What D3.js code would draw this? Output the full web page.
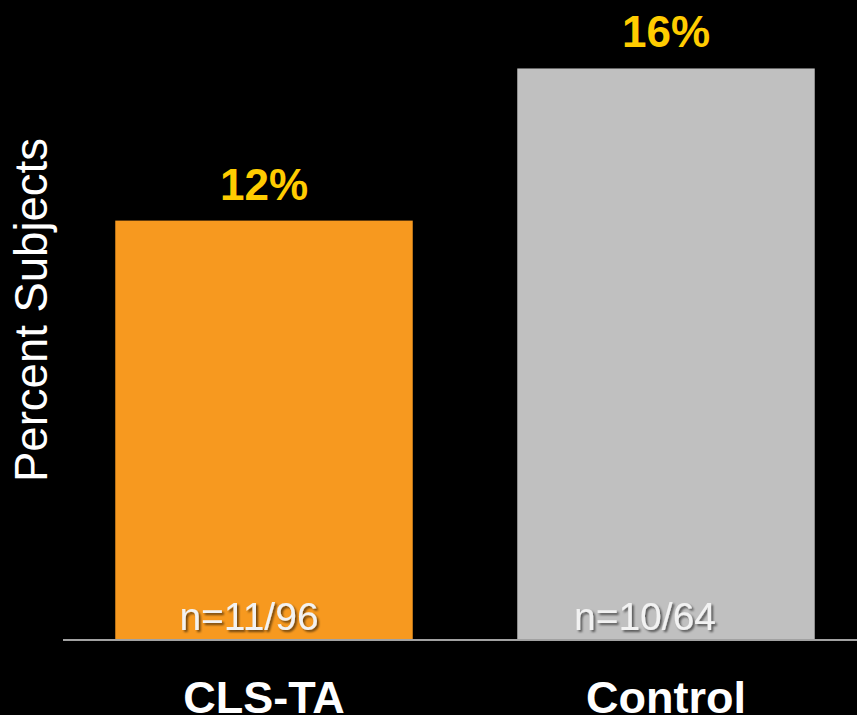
<!DOCTYPE html>
<html>
<head>
<meta charset="utf-8">
<script src="https://cdn.jsdelivr.net/npm/d3@7"></script>
<style>
  html, body { margin: 0; padding: 0; background: #000; }
  svg { display: block; }
</style>
</head>
<body>
<script>
// Chart data
const categories = ["CLS-TA", "Control"];
const events = [11, 10];        // subjects with event
const totals = [96, 64];        // subjects per arm
const percentLabels = ["12%", "16%"];
const barColors = ["#F7991F", "#C0C0C0"];

const values = events.map((e, i) => (e / totals[i]) * 100);

const width = 857;
const height = 715;
const baseY = 639;

const svg = d3.select("body")
  .append("svg")
  .attr("width", width)
  .attr("height", height)
  .attr("viewBox", [0, 0, width, height])
  .style("font-family", "'Liberation Sans', Arial, sans-serif");

svg.append("rect")
  .attr("width", width)
  .attr("height", height)
  .attr("fill", "#000");

// drop shadow for the n= labels
const defs = svg.append("defs");
defs.append("filter")
  .attr("id", "shadow")
  .attr("x", "-10%").attr("y", "-20%")
  .attr("width", "130%").attr("height", "150%")
  .append("feDropShadow")
  .attr("dx", 2).attr("dy", 2)
  .attr("stdDeviation", 1.2)
  .attr("flood-color", "#000")
  .attr("flood-opacity", 0.55);

const x = d3.scaleBand()
  .domain(categories)
  .range([63, 867])
  .paddingInner(0.26)
  .paddingOuter(0.13);

const y = d3.scaleLinear()
  .domain([0, 17.5])
  .range([baseY, 0]);

const data = categories.map((c, i) => ({
  cat: c, value: values[i], pct: percentLabels[i],
  n: `n=${events[i]}/${totals[i]}`, color: barColors[i]
}));

// bars
svg.selectAll("rect.bar")
  .data(data)
  .join("rect")
  .attr("class", "bar")
  .attr("x", d => x(d.cat))
  .attr("y", d => y(d.value))
  .attr("width", x.bandwidth())
  .attr("height", d => y(0) - y(d.value))
  .attr("fill", d => d.color);

// baseline
svg.append("line")
  .attr("x1", 63).attr("x2", width)
  .attr("y1", baseY + 1).attr("y2", baseY + 1)
  .attr("stroke", "#d9d9d9")
  .attr("stroke-width", 1.5);

// percent labels above bars
svg.selectAll("text.pct")
  .data(data)
  .join("text")
  .attr("class", "pct")
  .attr("x", d => x(d.cat) + x.bandwidth() / 2)
  .attr("y", d => y(d.value) - 21)
  .attr("text-anchor", "middle")
  .attr("fill", "#FFCC00")
  .attr("font-weight", "bold")
  .attr("font-size", 44)
  .text(d => d.pct);

// n= labels inside bars
svg.selectAll("text.n")
  .data(data)
  .join("text")
  .attr("class", "n")
  .attr("x", (d, i) => x(d.cat) + x.bandwidth() / 2 - (i === 0 ? 15 : 21))
  .attr("y", baseY - 9)
  .attr("text-anchor", "middle")
  .attr("fill", "#F2F2F2")
  .attr("font-size", 39)
  .attr("filter", "url(#shadow)")
  .text(d => d.n);

// category labels (bottom edge clipped, as in the original slide)
svg.append("g")
  .attr("transform", `translate(0,${baseY + 1})`)
  .call(d3.axisBottom(x).tickSize(0).tickPadding(0))
  .call(g => g.select(".domain").remove())
  .call(g => g.selectAll("text")
    .attr("y", 73)
    .attr("dy", 0)
    .attr("fill", "#fff")
    .attr("font-size", 45)
    .attr("font-weight", "bold")
    .attr("font-family", "'Liberation Sans', Arial, sans-serif"));

// y axis title
svg.append("text")
  .attr("transform", "translate(47,310) rotate(-90)")
  .attr("text-anchor", "middle")
  .attr("fill", "#fff")
  .attr("font-size", 45.5)
  .text("Percent Subjects");
</script>
</body>
</html>
